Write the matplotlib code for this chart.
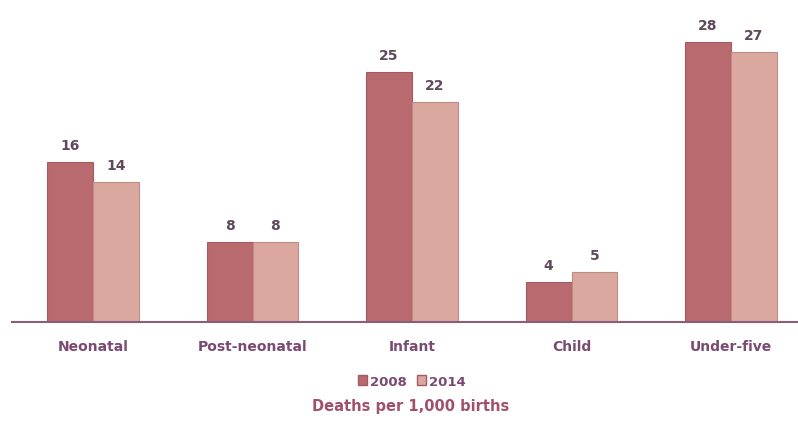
import matplotlib
matplotlib.use("Agg")
import matplotlib.pyplot as plt
import numpy as np
from matplotlib.patches import Patch

categories = ["Neonatal", "Post-neonatal", "Infant", "Child", "Under-five"]
rates_2008 = [16, 8, 25, 4, 28]
rates_2014 = [14, 8, 22, 5, 27]
series_labels = ["2008", "2014"]

c2008 = "#b86a6e"
c2014 = "#dba89f"
label_col = "#7b4a72"
value_col = "#5e4a5c"

fig = plt.figure(figsize=(7.98, 4.27), dpi=100)
ax = fig.add_axes([0.015, 0.2436, 0.985, 0.7564])

x = np.arange(len(categories))
w = 0.288
b1 = ax.bar(x - w / 2, rates_2008, w, color=c2008, edgecolor="#a45a62", linewidth=0.8)
b2 = ax.bar(x + w / 2, rates_2014, w, color=c2014, edgecolor="#c08a88", linewidth=0.8)

for bars, vals in ((b1, rates_2008), (b2, rates_2014)):
    for r, v in zip(bars, vals):
        ax.text(r.get_x() + r.get_width() / 2, v + 1.0, str(v), ha="center",
                va="bottom", fontsize=10, fontweight="bold", color=value_col)

ax.set_xlim(-0.508, 4.42)
ax.set_ylim(0, 32.3)
for s in ("top", "right", "left"):
    ax.spines[s].set_visible(False)
ax.spines["bottom"].set_color("#8a5d78")
ax.spines["bottom"].set_linewidth(1.5)
ax.set_yticks([])
ax.set_xticks(x)
ax.set_xticklabels(categories, fontsize=10, fontweight="bold", color=label_col)
ax.tick_params(axis="x", length=0, pad=12)

handles = [Patch(facecolor=c2008, edgecolor="#a45a62"),
           Patch(facecolor=c2014, edgecolor="#a45a62")]
fig.legend(handles, series_labels, loc="center", bbox_to_anchor=(0.516, 0.105),
           ncol=2, frameon=False, handlelength=0.7, handleheight=0.7,
           handletextpad=0.2, columnspacing=0.8,
           prop={"weight": "bold", "size": 9.5})
for t in fig.legends[0].get_texts():
    t.set_color(label_col)

fig.text(0.515, 0.047, "Deaths per 1,000 births", ha="center", va="center",
         fontsize=10.5, fontweight="bold", color="#a0506a")

fig.savefig("out.png", dpi=100)
